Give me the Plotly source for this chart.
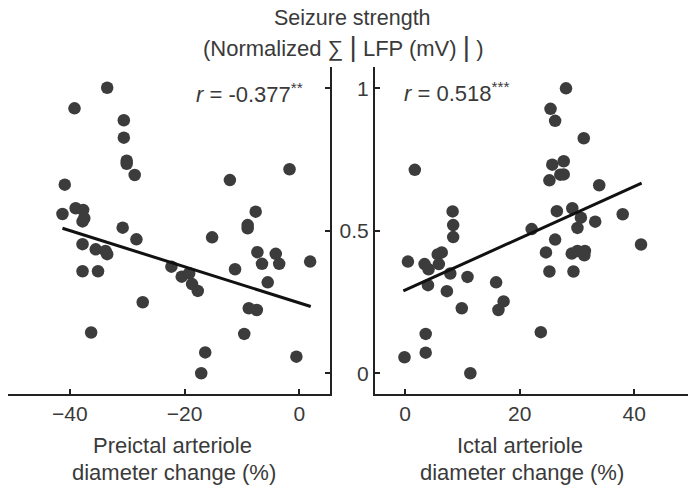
import plotly.graph_objects as go

# Left panel: preictal arteriole diameter change (%) vs seizure strength
pre_x = [-33.5, -39.2, -30.6, -30.6, -30.1, -30.1, -28.7, -40.9, -12.1, -1.7,
         -41.3, -39.0, -37.7, -37.5, -37.8, -30.8, -28.4, -37.8, -35.5, -33.8,
         -33.5, -37.8, -35.1, -27.3, -36.3, -15.2, -7.6, -9.0, -9.0, -7.3,
         -4.1, -6.5, -3.5, 1.9, -11.2, -22.3, -20.5, -19.2, -18.7, -17.7,
         -5.5, -8.8, -7.4, -9.6, -16.4, -17.1, -0.5]
pre_y = [1.002, 0.930, 0.888, 0.827, 0.746, 0.735, 0.696, 0.662, 0.678, 0.716,
         0.559, 0.579, 0.573, 0.544, 0.533, 0.511, 0.470, 0.453, 0.435, 0.429,
         0.418, 0.358, 0.358, 0.249, 0.143, 0.477, 0.567, 0.520, 0.509, 0.425,
         0.419, 0.384, 0.384, 0.392, 0.365, 0.374, 0.339, 0.351, 0.313, 0.289,
         0.319, 0.228, 0.222, 0.138, 0.073, 0.000, 0.058]

# Right panel: ictal arteriole diameter change (%) vs seizure strength
ict_x = [28.1, 25.4, 26.2, 31.2, 1.7, 25.7, 27.7, 27.1, 27.7, 25.2,
         33.9, 38.0, 26.5, 29.2, 30.7, 30.1, 33.2, 22.1, 26.2, 24.6,
         29.1, 30.1, 31.4, 31.3, 25.2, 29.4, 41.2, 8.3, 8.4, 8.4,
         0.5, 3.4, 4.1, 5.9, 5.7, 6.4, 7.9, 10.9, 4.0, 7.3,
         15.9, 17.2, 16.3, 9.9, 3.6, 3.6, -0.1, 11.4, 23.7]
ict_y = [1.000, 0.928, 0.886, 0.825, 0.714, 0.732, 0.744, 0.697, 0.698, 0.677,
         0.660, 0.558, 0.569, 0.579, 0.546, 0.510, 0.532, 0.506, 0.469, 0.424,
         0.420, 0.429, 0.429, 0.414, 0.357, 0.357, 0.452, 0.568, 0.520, 0.478,
         0.392, 0.383, 0.365, 0.383, 0.417, 0.424, 0.350, 0.338, 0.309, 0.288,
         0.319, 0.252, 0.222, 0.228, 0.138, 0.072, 0.056, 0.000, 0.144]

# Fitted regression lines (end points)
pre_fit_x = [-41.3, 2.0]
pre_fit_y = [0.509, 0.234]
ict_fit_x = [-0.3, 41.3]
ict_fit_y = [0.289, 0.667]

x_ticks_left = [-40, -20, 0]
x_ticks_right = [0, 20, 40]
y_ticks = [0, 0.5, 1]
y_tick_text = ["0", "0.5", "1"]

FONT = "Liberation Sans, Arial, sans-serif"
TXT = "#3a3a3a"
MARK = "#3c3c3c"

fig = go.Figure()
fig.add_trace(go.Scatter(x=pre_x, y=pre_y, mode="markers", xaxis="x", yaxis="y",
                         marker=dict(size=12.5, color=MARK), showlegend=False))
fig.add_trace(go.Scatter(x=pre_fit_x, y=pre_fit_y, mode="lines", xaxis="x", yaxis="y",
                         line=dict(color="#111111", width=3), showlegend=False))
fig.add_trace(go.Scatter(x=ict_x, y=ict_y, mode="markers", xaxis="x2", yaxis="y2",
                         marker=dict(size=12.5, color=MARK), showlegend=False))
fig.add_trace(go.Scatter(x=ict_fit_x, y=ict_fit_y, mode="lines", xaxis="x2", yaxis="y2",
                         line=dict(color="#111111", width=3), showlegend=False))

W, H = 688, 485
ydom = [(H - 394) / H, (H - 67) / H]
axcommon = dict(showgrid=False, zeroline=False, showline=True, linecolor="#222",
                linewidth=2, ticks="inside", ticklen=5, tickwidth=1.5, tickcolor="#222",
                tickfont=dict(family=FONT, size=21, color=TXT))

fig.update_layout(
    width=W, height=H,
    margin=dict(l=0, r=0, t=0, b=0),
    paper_bgcolor="white", plot_bgcolor="white",
    xaxis=dict(domain=[8 / W, 330 / W], range=[-50.8, 5.36], tickvals=x_ticks_left,
               anchor="y", **axcommon),
    yaxis=dict(domain=ydom, range=[-0.073, 1.075], tickvals=y_ticks, side="right",
               showticklabels=False, anchor="x", **axcommon),
    xaxis2=dict(domain=[375 / W, 1.0], range=[-5.25, 49.4], tickvals=x_ticks_right,
                anchor="y2", **axcommon),
    yaxis2=dict(domain=ydom, range=[-0.073, 1.075], tickvals=y_ticks, ticktext=y_tick_text,
                side="left", anchor="x2", **axcommon),
)


def label(text, x, y, size=21, anchor="center"):
    fig.add_annotation(text=text, x=x / W, y=1 - y / H, xref="paper", yref="paper",
                       showarrow=False, font=dict(family=FONT, size=size, color=TXT),
                       xanchor=anchor, yanchor="middle")


bar = '<span style="font-size:28px">|</span>'
label("Seizure strength", 352, 18, 21.5)
label("(Normalized ∑ " + bar + " LFP (mV) " + bar + " )", 343, 47, 22)
label("Preictal arteriole", 172, 445, 22)
label("diameter change (%)", 174, 472, 22)
label("Ictal arteriole", 520, 445, 22)
label("diameter change (%)", 522, 472, 22)
label("<i>r</i> = -0.377<sup>**</sup>", 305, 93, 22, "right")
label("<i>r</i> = 0.518<sup>***</sup>", 402, 92, 22, "left")

fig.write_html("out.html",
               config={"displayModeBar": False},
               post_script="document.body.style.margin='0';document.body.style.padding='0';"
                           "document.documentElement.style.overflow='hidden';")
